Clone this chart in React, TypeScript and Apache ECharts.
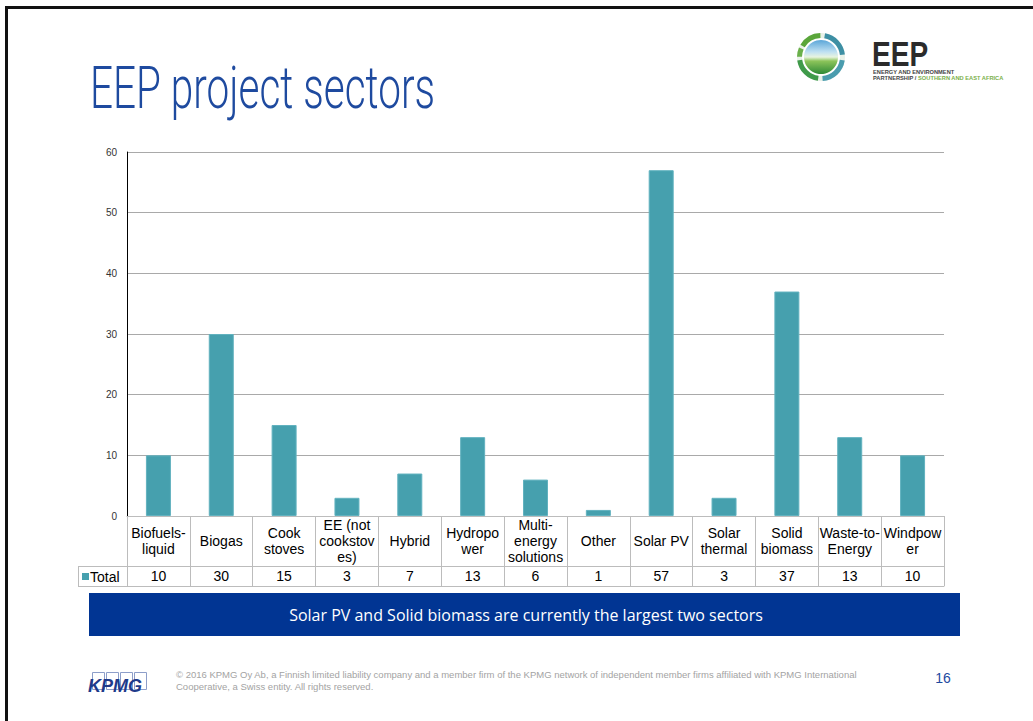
import React, { useEffect, useRef } from "react";
import * as echarts from "echarts";

const categories = [
  "Biofuels-\nliquid",
  "Biogas",
  "Cook\nstoves",
  "EE (not\ncookstov\nes)",
  "Hybrid",
  "Hydropo\nwer",
  "Multi-\nenergy\nsolutions",
  "Other",
  "Solar PV",
  "Solar\nthermal",
  "Solid\nbiomass",
  "Waste-to-\nEnergy",
  "Windpow\ner",
];
const totals = [10, 30, 15, 3, 7, 13, 6, 1, 57, 3, 37, 13, 10];
const seriesName = "Total";
const yMin = 0;
const yMax = 60;
const yInterval = 10;

const title = "EEP project sectors";
const banner = "Solar PV and Solid biomass are currently the largest two sectors";
const footer1 =
  "© 2016 KPMG Oy Ab, a Finnish limited liability company and a member firm of the KPMG network of independent member firms affiliated with KPMG International";
const footer2 = "Cooperative, a Swiss entity. All rights reserved.";
const pageNo = "16";

const BAR = "#46a0ae";
const TABLE = "#bcbcbc";
const FONT = "'Liberation Sans', Arial, sans-serif";

export default function App() {
  const ref = useRef<HTMLDivElement>(null);
  useEffect(() => {
    if (!ref.current) return;
    const chart = echarts.init(ref.current, undefined, { renderer: "svg" });
    const gridLeft = 127;
    const gridTop = 152;
    const gridW = 817;
    const gridH = 364;
    const option: any = {
      animation: false,
      backgroundColor: "#ffffff",
      grid: { left: gridLeft, top: gridTop, width: gridW, height: gridH, containLabel: false },
      xAxis: [
        {
          type: "category",
          data: categories,
          position: "bottom",
          axisLine: { show: true, lineStyle: { color: TABLE, width: 1 } },
          axisTick: { show: true, length: 70, lineStyle: { color: TABLE, width: 1 } },
          axisLabel: {
            interval: 0,
            margin: 25,
            fontSize: 14,
            lineHeight: 16,
            color: "#000",
            fontFamily: FONT,
            verticalAlign: "middle",
            align: "center",
          },
        },
        {
          type: "category",
          data: totals.map(String),
          position: "bottom",
          offset: 50,
          axisLine: { show: true, lineStyle: { color: TABLE, width: 1 } },
          axisTick: { show: false },
          axisLabel: {
            interval: 0,
            margin: 10,
            fontSize: 14,
            color: "#000",
            fontFamily: FONT,
            verticalAlign: "middle",
          },
        },
        {
          type: "category",
          data: categories.map(() => ""),
          position: "bottom",
          offset: 70,
          axisLine: { show: true, lineStyle: { color: TABLE, width: 1 } },
          axisTick: { show: false },
          axisLabel: { show: false },
        },
      ],
      yAxis: {
        type: "value",
        min: yMin,
        max: yMax,
        interval: yInterval,
        axisLine: { show: true, lineStyle: { color: "#000", width: 1 } },
        axisTick: { show: false },
        splitLine: { show: true, lineStyle: { color: "#a9a9a9", width: 1 } },
        axisLabel: { fontSize: 10, color: "#333", fontFamily: FONT, margin: 10 },
      },
      series: [
        {
          name: seriesName,
          type: "bar",
          data: totals,
          barWidth: 25,
          itemStyle: { color: BAR, borderColor: "#62b2bf", borderWidth: 1 },
        },
      ],
      graphic: [
        // slide border
        { type: "line", shape: { x1: 6.5, y1: 6, x2: 6.5, y2: 721 }, style: { stroke: "#111", lineWidth: 3 } },
        { type: "line", shape: { x1: 5, y1: 7.5, x2: 1033, y2: 7.5 }, style: { stroke: "#111", lineWidth: 3 } },
        // title
        {
          type: "text",
          x: 90,
          y: 87,
          scaleX: 0.675,
          style: {
            text: title,
            font: "300 60px Roboto, 'Liberation Sans', sans-serif",
            fill: "#1e4a9f",
            verticalAlign: "middle",
          },
        },
        // EEP logo
        {
          type: "ring",
          shape: { cx: 821, cy: 57, r: 24, r0: 19 },
          style: { fill: "#e8f1e8" },
        },
        { type: "arc", shape: { cx: 821, cy: 57, r: 21.5, startAngle: -2.6, endAngle: -1.6 }, style: { stroke: "#5aa63a", lineWidth: 5, fill: "none" } },
        { type: "arc", shape: { cx: 821, cy: 57, r: 21.5, startAngle: -1.4, endAngle: -0.1 }, style: { stroke: "#3d8fa4", lineWidth: 5, fill: "none" } },
        { type: "arc", shape: { cx: 821, cy: 57, r: 21.5, startAngle: 0.15, endAngle: 1.5 }, style: { stroke: "#4a9cae", lineWidth: 5, fill: "none" } },
        { type: "arc", shape: { cx: 821, cy: 57, r: 21.5, startAngle: 1.7, endAngle: 3.0 }, style: { stroke: "#3f9a4a", lineWidth: 5, fill: "none" } },
        { type: "arc", shape: { cx: 821, cy: 57, r: 21.5, startAngle: 3.15, endAngle: 3.55 }, style: { stroke: "#6ab04a", lineWidth: 5, fill: "none" } },
        {
          type: "circle",
          shape: { cx: 821, cy: 57, r: 17 },
          style: {
            fill: new echarts.graphic.LinearGradient(0, 0, 0, 1, [
              { offset: 0, color: "#5aa6d8" },
              { offset: 0.35, color: "#bfe0f2" },
              { offset: 0.5, color: "#e8f4e0" },
              { offset: 0.62, color: "#8cc45a" },
              { offset: 1, color: "#2e8a36" },
            ]),
          },
        },
        {
          type: "text",
          x: 872,
          y: 54,
          scaleX: 0.78,
          style: { text: "EEP", font: "bold 36px 'Liberation Sans', Arial, sans-serif", fill: "#2b2b2b", verticalAlign: "middle" },
        },
        {
          type: "text",
          x: 873,
          y: 72,
          style: { text: "ENERGY AND ENVIRONMENT", font: "bold 5.7px 'Liberation Sans', Arial, sans-serif", fill: "#444", verticalAlign: "middle" },
        },
        {
          type: "text",
          x: 873,
          y: 78,
          style: {
            text: "{a|PARTNERSHIP / }{b|SOUTHERN AND EAST AFRICA}",
            rich: {
              a: { font: "bold 5.7px 'Liberation Sans', Arial, sans-serif", fill: "#444" },
              b: { font: "bold 5.7px 'Liberation Sans', Arial, sans-serif", fill: "#7ab04a" },
            },
            verticalAlign: "middle",
          },
        },
        // table header column
        { type: "line", shape: { x1: 78, y1: 566.5, x2: gridLeft, y2: 566.5 }, style: { stroke: TABLE, lineWidth: 1 } },
        { type: "line", shape: { x1: 78, y1: 586.5, x2: gridLeft, y2: 586.5 }, style: { stroke: TABLE, lineWidth: 1 } },
        { type: "line", shape: { x1: 78.5, y1: 566, x2: 78.5, y2: 587 }, style: { stroke: TABLE, lineWidth: 1 } },
        { type: "rect", shape: { x: 82, y: 573, width: 7, height: 7 }, style: { fill: BAR } },
        {
          type: "text",
          x: 90,
          y: 577,
          style: { text: seriesName, font: "14px " + FONT, fill: "#000", verticalAlign: "middle" },
        },
        // banner
        { type: "rect", shape: { x: 89, y: 593, width: 871, height: 43 }, style: { fill: "#013593" } },
        {
          type: "text",
          x: 526,
          y: 615,
          style: {
            text: banner,
            font: "16px 'Open Sans', 'Noto Sans', sans-serif",
            fill: "#ffffff",
            align: "center",
            verticalAlign: "middle",
          },
        },
        // KPMG logo
        { type: "rect", shape: { x: 92.5, y: 672.5, width: 12, height: 17 }, style: { fill: "none", stroke: "#8d9ec9", lineWidth: 1 } },
        { type: "rect", shape: { x: 106.5, y: 672.5, width: 12, height: 17 }, style: { fill: "none", stroke: "#8d9ec9", lineWidth: 1 } },
        { type: "rect", shape: { x: 120.5, y: 672.5, width: 12, height: 17 }, style: { fill: "none", stroke: "#8d9ec9", lineWidth: 1 } },
        { type: "rect", shape: { x: 134.5, y: 672.5, width: 12, height: 17 }, style: { fill: "none", stroke: "#8d9ec9", lineWidth: 1 } },
        {
          type: "text",
          x: 88,
          y: 686,
          style: {
            text: "KPMG",
            font: "italic bold 18px 'Liberation Sans', Arial, sans-serif",
            fill: "#1e3a8a",
            verticalAlign: "middle",
          },
        },
        // footer
        {
          type: "text",
          x: 176,
          y: 674,
          style: { text: footer1, font: "9.5px " + FONT, fill: "#a3a3a3", verticalAlign: "middle" },
        },
        {
          type: "text",
          x: 176,
          y: 686,
          style: { text: footer2, font: "9.5px " + FONT, fill: "#a3a3a3", verticalAlign: "middle" },
        },
        {
          type: "text",
          x: 943,
          y: 678,
          style: { text: pageNo, font: "14px " + FONT, fill: "#1e4a9f", align: "center", verticalAlign: "middle" },
        },
      ],
    };
    chart.setOption(option);
    return () => chart.dispose();
  }, []);
  return (
    <div
      ref={ref}
      style={{ position: "fixed", left: 0, top: 0, width: 1033, height: 721, background: "#fff" }}
    />
  );
}
